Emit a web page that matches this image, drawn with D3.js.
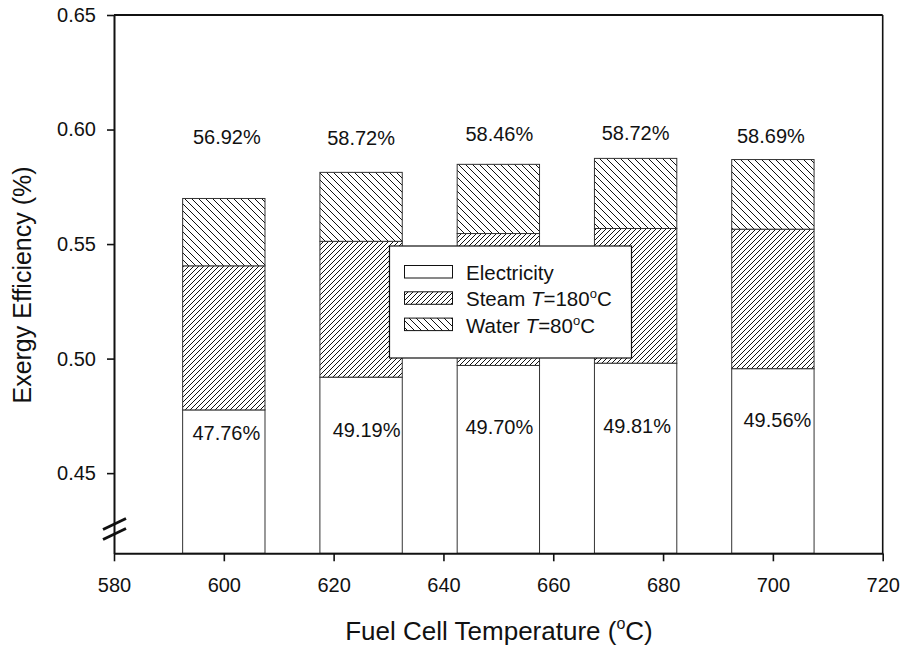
<!DOCTYPE html>
<html>
<head>
<meta charset="utf-8">
<script src="https://cdn.jsdelivr.net/npm/d3@7"></script>
<style>
  html, body { margin: 0; padding: 0; background: #fff; }
  svg { display: block; font-family: "Liberation Sans", Arial, Helvetica, sans-serif; }
</style>
</head>
<body>
<svg id="chart" width="903" height="648"></svg>
<script>
// ---- data ----
const temps = [600, 625, 650, 675, 700];
const electricity = [0.4776, 0.4919, 0.4970, 0.4980, 0.4956];
const steam = [0.0629, 0.0593, 0.0576, 0.0588, 0.0609];
const water = [0.0294, 0.0301, 0.0302, 0.0306, 0.0304];
const totalLabels = ["56.92%", "58.72%", "58.46%", "58.72%", "58.69%"];
const electricityLabels = ["47.76%", "49.19%", "49.70%", "49.81%", "49.56%"];
const xTicks = [580, 600, 620, 640, 660, 680, 700, 720];
const yTicks = [0.45, 0.50, 0.55, 0.60, 0.65];
const seriesNames = ["Electricity", "Steam", "Water"];

// ---- layout ----
const plotLeft = 114, plotRight = 882.7, plotTop = 15, plotBottom = 553.3;
const barHalf = 7.5; // in °C units
const topLabelDx = [3, 0, 1, 0, -2];
const topLabelY = [143.7, 145, 141, 140, 143.3];
const elecLabelDx = [2.5, 5.5, 1, 1.5, 4.5];
const elecLabelY = [440, 436.7, 434.3, 432.7, 427.3];

const svg = d3.select("#chart");

const x = d3.scaleLinear().domain([580, 720]).range([plotLeft, plotRight]);
const y = d3.scaleLinear().domain([0.415, 0.65]).range([plotBottom, plotTop]).clamp(true);

// patterns
const defs = svg.append("defs");
function hatch(id, s, forward) {
  const p = defs.append("pattern").attr("id", id)
    .attr("patternUnits", "userSpaceOnUse").attr("width", s).attr("height", s);
  p.append("rect").attr("width", s).attr("height", s).attr("fill", "#fff");
  const d = forward
    ? `M0,${s} L${s},0 M-1,1 L1,-1 M${s-1},${s+1} L${s+1},${s-1}`
    : `M0,0 L${s},${s} M-1,${s-1} L1,${s+1} M${s-1},-1 L${s+1},1`;
  p.append("path").attr("d", d).attr("stroke", "#111").attr("stroke-width", 1).attr("fill", "none");
}
hatch("steamHatch", 5, true);
hatch("waterHatch", 7, false);
const fills = { Electricity: "#fff", Steam: "url(#steamHatch)", Water: "url(#waterHatch)" };

// stacked data
const rows = temps.map((t, i) => ({ temp: t, Electricity: electricity[i], Steam: steam[i], Water: water[i] }));
const stacked = d3.stack().keys(seriesNames)(rows);

const g = svg.append("g");
stacked.forEach(layer => {
  g.selectAll(null).data(layer).enter().append("rect")
    .attr("x", d => x(d.data.temp - barHalf))
    .attr("width", d => x(d.data.temp + barHalf) - x(d.data.temp - barHalf))
    .attr("y", d => y(d[1]))
    .attr("height", d => y(d[0]) - y(d[1]))
    .attr("fill", fills[layer.key])
    .attr("stroke", "#333")
    .attr("stroke-width", 1);
});

// frame
svg.append("line").attr("x1", plotLeft).attr("x2", plotRight).attr("y1", plotTop).attr("y2", plotTop).attr("stroke", "#111").attr("stroke-width", 2);
svg.append("line").attr("x1", plotRight).attr("x2", plotRight).attr("y1", plotTop).attr("y2", plotBottom).attr("stroke", "#111").attr("stroke-width", 1.6);

// axes
const fontSize = 20;
const xAxis = svg.append("g").attr("transform", `translate(0,${plotBottom})`)
  .call(d3.axisBottom(x).tickValues(xTicks).tickSize(8).tickPadding(17).tickSizeOuter(0).tickFormat(d3.format("d")));
const yAxis = svg.append("g").attr("transform", `translate(${plotLeft},0)`)
  .call(d3.axisLeft(y).tickValues(yTicks).tickSize(7).tickPadding(11).tickSizeOuter(0).tickFormat(d3.format(".2f")));
[xAxis, yAxis].forEach(a => {
  a.select(".domain").attr("stroke", "#111").attr("stroke-width", 2);
  a.selectAll(".tick line").attr("stroke", "#111").attr("stroke-width", 1.6);
  a.selectAll(".tick text").attr("fill", "#111").style("font-size", fontSize + "px")
    .style("font-family", "'Liberation Sans', Arial, sans-serif");
});

// axis break marks
const brk = svg.append("g").attr("stroke", "#111").attr("stroke-width", 2.8);
[524, 534].forEach(cy => {
  brk.append("line").attr("x1", plotLeft - 11).attr("y1", cy + 5.5).attr("x2", plotLeft + 12).attr("y2", cy - 5.5);
});

// value labels
svg.append("g").selectAll("text").data(temps).enter().append("text")
  .attr("x", (d, i) => x(d) + topLabelDx[i]).attr("y", (d, i) => topLabelY[i])
  .attr("text-anchor", "middle").style("font-size", fontSize + "px").attr("fill", "#111")
  .text((d, i) => totalLabels[i]);
svg.append("g").selectAll("text").data(temps).enter().append("text")
  .attr("x", (d, i) => x(d) + elecLabelDx[i]).attr("y", (d, i) => elecLabelY[i])
  .attr("text-anchor", "middle").style("font-size", fontSize + "px").attr("fill", "#111")
  .text((d, i) => electricityLabels[i]);

// legend
const lg = svg.append("g");
lg.append("rect").attr("x", 389.5).attr("y", 246).attr("width", 242).attr("height", 112)
  .attr("fill", "#fff").attr("stroke", "#111").attr("stroke-width", 1.2);
const legendItems = [
  { key: "Electricity", parts: [["Electricity", null]] },
  { key: "Steam", parts: [["Steam ", null], ["T", "italic"], ["=180", null], ["o", "sup"], ["C", "after"]] },
  { key: "Water", parts: [["Water ", null], ["T", "italic"], ["=80", null], ["o", "sup"], ["C", "after"]] }
];
legendItems.forEach((it, i) => {
  const ry = 265.5 + i * 26.3;
  lg.append("rect").attr("x", 404.5).attr("y", ry).attr("width", 48).attr("height", 12.5)
    .attr("fill", fills[it.key]).attr("stroke", "#111").attr("stroke-width", 1);
  const t = lg.append("text").attr("x", 466).attr("y", ry + 14.5)
    .style("font-size", "20.5px").attr("fill", "#111");
  it.parts.forEach(([s, k]) => {
    const ts = t.append("tspan").text(s);
    if (k === "italic") ts.style("font-style", "italic");
    if (k === "sup") ts.attr("dy", -8).style("font-size", "13px");
    if (k === "after") ts.attr("dy", 8);
  });
});

// axis titles
const xt = svg.append("text").attr("x", 499).attr("y", 640).attr("text-anchor", "middle")
  .style("font-size", "26px").attr("fill", "#111");
xt.append("tspan").text("Fuel Cell Temperature (");
xt.append("tspan").attr("dy", -11).style("font-size", "16px").text("o");
xt.append("tspan").attr("dy", 11).text("C)");

svg.append("text").attr("transform", "translate(31,285) rotate(-90)").attr("text-anchor", "middle")
  .style("font-size", "25px").attr("fill", "#111").text("Exergy Efficiency (%)");
</script>
</body>
</html>
